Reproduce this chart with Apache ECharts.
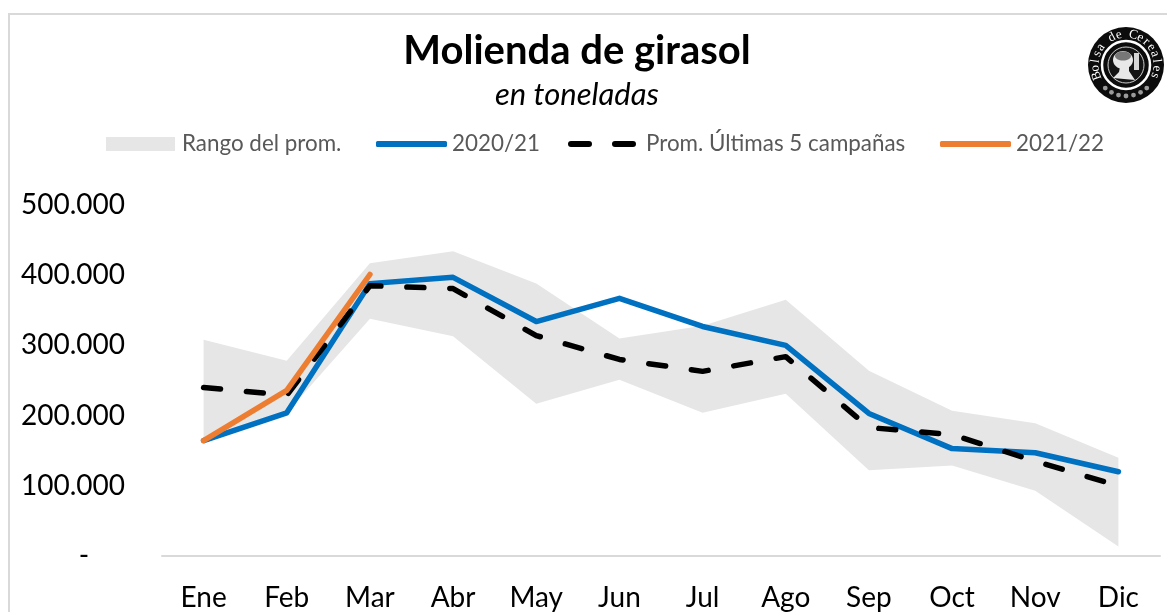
<!DOCTYPE html>
<html>
<head>
<meta charset="utf-8">
<title>Molienda de girasol</title>
<script src="https://cdn.jsdelivr.net/npm/echarts@6/dist/echarts.min.js"></script>
<style>
    html, body { margin: 0; padding: 0; background: #fff; }
    #chart { width: 1167px; height: 612px; }
</style>
</head>
<body>
<div id="chart"></div>
<script>
const months = ['Ene', 'Feb', 'Mar', 'Abr', 'May', 'Jun', 'Jul', 'Ago', 'Sep', 'Oct', 'Nov', 'Dic'];
const rangeLow = [163000, 204000, 338000, 313000, 217000, 251000, 204000, 231000, 122000, 129000, 93000, 13500];
const rangeHigh = [308000, 278000, 417000, 434000, 388000, 310000, 328000, 365000, 264000, 207000, 189000, 140000];
const campaign2021 = [164500, 204000, 388000, 397000, 334000, 367000, 327000, 300000, 203000, 153000, 147000, 120000];
const promLast5 = [240000, 229000, 385000, 381000, 314000, 280000, 263000, 284000, 183000, 173000, 135000, 100000];
const campaign2122 = [164500, 236000, 401000];
const yTickLabels = { 0: '-     ', 100000: '100.000', 200000: '200.000', 300000: '300.000', 400000: '400.000', 500000: '500.000' };

const FONT = 'Lato, "Open Sans", sans-serif';
const DASH_ICON = 'path://M3 0H21A3 3 0 0 1 21 6H3A3 3 0 0 1 3 0Z M47 0H65A3 3 0 0 1 65 6H47A3 3 0 0 1 47 0Z';
const rangeSpan = rangeHigh.map((v, i) => v - rangeLow[i]);

// logo: round seal, letters placed one by one on the arc
function logoElements(cx, cy) {
    const els = [
        { type: 'circle', shape: { cx, cy, r: 38 }, style: { fill: '#0c0c0c' } },
        { type: 'circle', shape: { cx, cy, r: 24 }, style: { fill: 'none', stroke: '#fff', lineWidth: 2.5 } },
        { type: 'circle', shape: { cx, cy, r: 18 }, style: { fill: '#151515', stroke: '#ccc', lineWidth: 1 } },
        { type: 'ellipse', shape: { cx: cx - 3, cy: cy - 5, rx: 10, ry: 9 }, style: { fill: '#e8e8e8' } },
        { type: 'polygon', shape: { points: [[cx - 6, cy + 2], [cx + 3, cy + 1], [cx + 3, cy + 6], [cx + 9, cy + 15], [cx - 13, cy + 13], [cx - 7, cy + 7]] }, style: { fill: '#e8e8e8' } },
        { type: 'ellipse', shape: { cx: cx - 3, cy: cy - 9, rx: 8, ry: 4.5 }, style: { fill: '#777' } },
        { type: 'rect', shape: { x: cx + 8, y: cy - 12, width: 5, height: 17 }, style: { fill: '#d5d5d5' } }
    ];
    const label = 'Bolsa de Cereales';
    const start = -200;
    const step = 220 / (label.length - 1);
    label.split('').forEach((ch, i) => {
        const deg = start + i * step;
        const rad = deg * Math.PI / 180;
        els.push({
            type: 'text',
            x: cx + 31 * Math.cos(rad),
            y: cy + 31 * Math.sin(rad),
            rotation: -(deg + 90) * Math.PI / 180,
            style: { text: ch, fill: '#fff', font: '13px "Liberation Serif"', align: 'center', verticalAlign: 'middle' }
        });
    });
    // leaves at the bottom of the seal
    for (let k = -3; k <= 3; k++) {
        const rad = (90 + k * 14) * Math.PI / 180;
        els.push({
            type: 'circle',
            shape: { cx: cx + 31 * Math.cos(rad), cy: cy + 31 * Math.sin(rad), r: 2.4 },
            style: { fill: '#9a9a9a' }
        });
    }
    return els;
}

function legendAt(name, left, width, height, icon, textGap) {
    return {
        show: true,
        data: [name],
        left: left,
        top: 133,
        padding: 0,
        icon: icon,
        itemWidth: width,
        itemHeight: height,
        textStyle: { fontFamily: FONT, fontSize: 22.4, color: '#595959', padding: [0, 0, 0, textGap] }
    };
}

const chart = echarts.init(document.getElementById('chart'), null, { renderer: 'canvas' });

chart.setOption({
    animation: false,
    backgroundColor: '#fff',
    title: [
        { text: 'Molienda de girasol', left: 572, top: 26, textAlign: 'center', textStyle: { fontFamily: FONT, fontSize: 40, fontWeight: 'bold', color: '#000' } },
        { text: 'en toneladas', left: 572, top: 74, textAlign: 'center', textStyle: { fontFamily: FONT, fontSize: 31, fontStyle: 'italic', fontWeight: 'normal', color: '#000' } }
    ],
    legend: [
        legendAt('Rango del prom.', 106, 69, 14, 'rect', 2),
        legendAt('2020/21', 376, 71, 6, 'roundRect', 0),
        legendAt('Prom. Últimas 5 campañas', 568, 68, 6, DASH_ICON, 5),
        legendAt('2021/22', 940, 71, 6, 'roundRect', 0)
    ],
    grid: { left: 162, right: 7, top: 205, bottom: 56, containLabel: false },
    xAxis: {
        type: 'category',
        data: months,
        boundaryGap: true,
        axisTick: { show: false },
        axisLine: { lineStyle: { color: '#d9d9d9', width: 2 } },
        axisLabel: { margin: 28, fontFamily: FONT, fontSize: 28, color: '#000' }
    },
    yAxis: {
        type: 'value',
        min: 0,
        max: 500000,
        interval: 100000,
        splitLine: { show: false },
        axisLine: { show: false },
        axisTick: { show: false },
        axisLabel: {
            margin: 37,
            fontFamily: FONT,
            fontSize: 28,
            color: '#000',
            formatter: function (value) { return yTickLabels[value]; }
        }
    },
    series: [
        {
            name: 'rangoBase',
            type: 'line',
            stack: 'rango',
            data: rangeLow,
            symbol: 'none',
            lineStyle: { width: 0 },
            areaStyle: { opacity: 0 }
        },
        {
            name: 'Rango del prom.',
            type: 'line',
            stack: 'rango',
            data: rangeSpan,
            symbol: 'none',
            itemStyle: { color: '#e6e6e6' },
            lineStyle: { width: 0 },
            areaStyle: { color: '#e6e6e6', opacity: 1 }
        },
        {
            name: '2020/21',
            type: 'line',
            data: campaign2021,
            symbol: 'none',
            itemStyle: { color: '#0070c0' },
            lineStyle: { color: '#0070c0', width: 5.5, cap: 'round', join: 'round' }
        },
        {
            name: 'Prom. Últimas 5 campañas',
            type: 'line',
            data: promLast5,
            symbol: 'none',
            itemStyle: { color: '#000' },
            lineStyle: { color: '#000', width: 5.5, type: [17, 26], cap: 'round', join: 'round' }
        },
        {
            name: '2021/22',
            type: 'line',
            data: campaign2122,
            symbol: 'none',
            itemStyle: { color: '#ed7d31' },
            lineStyle: { color: '#ed7d31', width: 5.5, cap: 'round', join: 'round' }
        }
    ],
    graphic: [
        { type: 'rect', silent: true, shape: { x: 9, y: 14, width: 1300, height: 800 }, style: { fill: 'none', stroke: '#d9d9d9', lineWidth: 2 } },
        { type: 'group', silent: true, children: logoElements(1126, 65) }
    ]
});
</script>
</body>
</html>
